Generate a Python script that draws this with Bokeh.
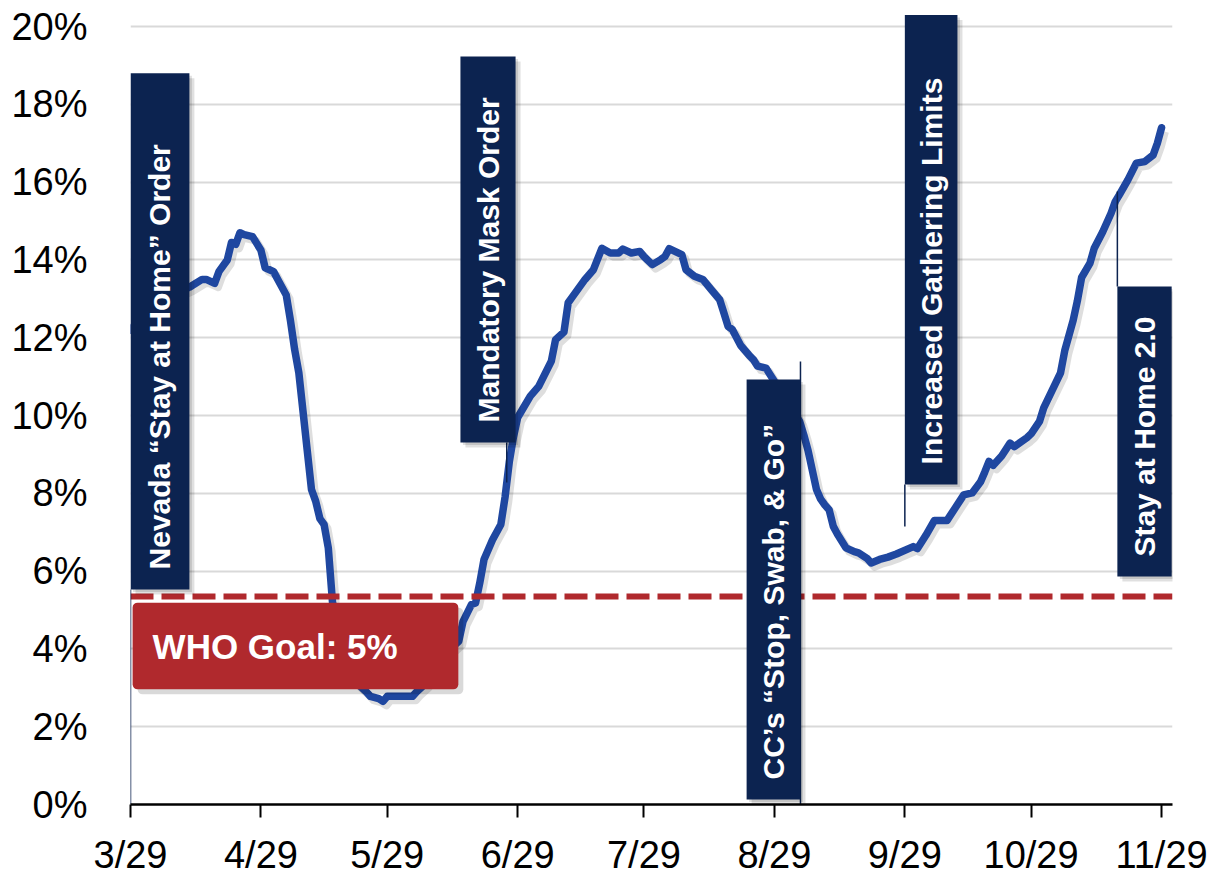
import math
from bokeh.plotting import figure
from bokeh.models import ColumnDataSource, FixedTicker, BoxAnnotation, Label
from bokeh.core.properties import value
from bokeh.embed import file_html
from bokeh.resources import INLINE

# ---------------- data ----------------
# x = days since 3/29 (2020), y = test positivity rate in %
days = [0, 3, 6, 9, 12, 14, 17, 18, 20, 21, 23, 24, 25, 26, 27, 29, 31, 32, 34, 35,
        37, 38, 39, 40, 41, 42, 43, 44, 45, 46, 47, 48, 50, 52, 54, 56, 57, 59, 60, 61,
        63, 65, 67, 68, 70, 72, 74, 76, 78, 79, 81, 82, 83, 84, 86, 88, 89, 90, 91, 92,
        95, 97, 100, 101, 103, 104, 105, 108, 110, 112, 114, 116, 117, 119, 121, 122, 124, 126, 127, 128,
        130, 131, 132, 134, 136, 138, 140, 141, 142, 143, 145, 147, 148, 149, 151, 152, 153, 155, 157, 159,
        160, 161, 162, 163, 164, 165, 166, 167, 168, 170, 172, 173, 175, 176, 178, 180, 182, 186, 187, 189,
        191, 194, 196, 198, 200, 202, 203, 204, 205, 207, 209, 210, 213, 214, 216, 217, 219, 221, 222, 224,
        225, 226, 228, 229, 231, 233, 234, 235, 237, 239, 241, 243, 244, 245]
rate = [12.2, 12.6, 12.9, 13.1, 13.2, 13.3, 13.5, 13.5, 13.4, 13.7, 14.0, 14.45, 14.4, 14.7, 14.65, 14.6, 14.25, 13.8, 13.7, 13.5,
        13.1, 12.45, 11.7, 11.1, 10.1, 9.1, 8.1, 7.8, 7.35, 7.2, 6.6, 5.2, 4.3, 3.6, 3.1, 2.9, 2.78, 2.72, 2.65, 2.78,
        2.78, 2.78, 2.78, 2.9, 3.1, 3.4, 3.7, 4.0, 4.2, 4.7, 5.14, 5.18, 5.7, 6.3, 6.8, 7.2, 7.9, 8.8, 9.45, 9.95,
        10.5, 10.75, 11.4, 11.95, 12.15, 12.9, 13.05, 13.5, 13.75, 14.3, 14.18, 14.18, 14.28, 14.18, 14.22, 14.09, 13.88, 14.01, 14.09, 14.29,
        14.19, 14.14, 13.75, 13.58, 13.5, 13.24, 12.98, 12.64, 12.29, 12.21, 11.8, 11.55, 11.44, 11.27, 11.22, 11.05, 10.88, 10.5, 10.2, 9.85,
        9.5, 9.1, 8.6, 8.1, 7.85, 7.7, 7.58, 7.15, 6.95, 6.6, 6.5, 6.47, 6.33, 6.21, 6.3, 6.36, 6.44, 6.63, 6.58, 6.92,
        7.3, 7.3, 7.63, 7.96, 8.01, 8.3, 8.55, 8.82, 8.72, 8.96, 9.29, 9.2, 9.43, 9.53, 9.85, 10.2, 10.65, 11.1, 11.67, 12.45,
        12.95, 13.55, 13.92, 14.3, 14.72, 15.2, 15.5, 15.68, 16.06, 16.49, 16.53, 16.7, 17.0, 17.4]

tick_days = [0, 31, 61, 92, 122, 153, 184, 214, 245]
tick_labels = ["3/29", "4/29", "5/29", "6/29", "7/29", "8/29", "9/29", "10/29", "11/29"]
y_ticks = [0, 2, 4, 6, 8, 10, 12, 14, 16, 18, 20]
y_labels = [f"{t}%" for t in y_ticks]

event_days = [0, 89.4, 159.2, 184, 234.5]
event_labels = ["Nevada \u201cStay at Home\u201d Order", "Mandatory Mask Order",
                "CC\u2019s \u201cStop, Swab, & Go\u201d", "Increased Gathering Limits", "Stay at Home 2.0"]
who_goal = 5.35
who_label = "WHO Goal: 5%"

# ---------------- layout / style ----------------
PX_X = 4.2082   # px per day
PX_Y = 38.9     # px per percentage point
FONT = "Liberation Sans"
NAVY = "#0c2350"
BLUE = "#1f47a0"
RED = "#b0292d"

# box extents around each event marker
box_left = [0, 78.4, 146.4, 184, 234.5]
box_right = [14.0, 91.5, 159.2, 196.5, 247.4]
box_bottom = [5.53, 9.31, 0.13, 8.23, 5.86]
box_top = [18.8, 19.23, 10.93, 20.3, 13.32]
line_y0 = [5.53, 9.31, 11.39, 8.23, 13.32]
line_y1 = [0.0, 8.28, 0.0, 7.15, 15.76]

p = figure(width=1208, height=882, x_range=(0, 247.6), y_range=(0, 20.44),
           output_backend="svg", toolbar_location=None,
           min_border_left=130, min_border_right=36, min_border_top=9, min_border_bottom=78)
p.outline_line_color = None
p.background_fill_color = "white"
p.border_fill_color = "white"

p.xgrid.grid_line_color = None
p.ygrid.grid_line_color = "#d9d9d9"
p.ygrid.grid_line_width = 2

p.xaxis.ticker = FixedTicker(ticks=tick_days)
p.xaxis.major_label_overrides = {d: l for d, l in zip(tick_days, tick_labels)}
p.xaxis.axis_line_color = "black"
p.xaxis.axis_line_width = 2.5
p.xaxis.major_tick_line_color = "black"
p.xaxis.major_tick_line_width = 2
p.xaxis.major_tick_out = 13
p.xaxis.major_tick_in = 0
p.xaxis.minor_tick_line_color = None
p.xaxis.major_label_standoff = 16
p.xaxis.major_label_text_font = FONT
p.xaxis.major_label_text_font_size = "38px"
p.xaxis.major_label_text_color = "black"

p.yaxis.ticker = FixedTicker(ticks=y_ticks)
p.yaxis.major_label_overrides = {t: l for t, l in zip(y_ticks, y_labels)}
p.yaxis.axis_line_color = None
p.yaxis.major_tick_line_color = None
p.yaxis.minor_tick_line_color = None
p.yaxis.major_tick_out = 0
p.yaxis.major_tick_in = 0
p.yaxis.major_label_standoff = 43
p.yaxis.major_label_text_font = FONT
p.yaxis.major_label_text_font_size = "38px"
p.yaxis.major_label_text_color = "black"

src = ColumnDataSource(dict(x=days, y=rate))
# soft shadow of the curve
p.line([d + 0.8 for d in days], [r - 0.1 for r in rate], line_color="black", line_alpha=0.13,
       line_width=8, line_join="round")
p.line("x", "y", source=src, line_color=BLUE, line_width=7.5, line_join="round", line_cap="round")

# WHO goal dashed line
p.line([0, 247.6], [who_goal, who_goal], line_color=RED, line_width=6, line_dash="23 8")

# event marker lines
p.segment(x0=event_days, y0=line_y0, x1=event_days, y1=line_y1, line_color=NAVY, line_width=1.5)

# event boxes with shadow
dx, dy = 5 / PX_X, 5 / PX_Y
p.quad(left=[l + dx for l in box_left], right=[r + dx for r in box_right],
       bottom=[b - dy for b in box_bottom], top=[t - dy for t in box_top],
       fill_color="black", fill_alpha=0.12, line_color=None)
p.quad(left=[l + dx / 2 for l in box_left], right=[r + dx / 2 for r in box_right],
       bottom=[b - dy / 2 for b in box_bottom], top=[t - dy / 2 for t in box_top],
       fill_color="black", fill_alpha=0.12, line_color=None)
p.quad(left=box_left, right=box_right, bottom=box_bottom, top=box_top,
       fill_color=NAVY, line_color=None)

text_x = [(l + r) / 2 for l, r in zip(box_left, box_right)]
text_y = [b + 20 / PX_Y for b in box_bottom]
p.text(x=text_x, y=text_y, text=event_labels, angle=math.pi / 2,
       text_align="left", text_baseline="middle", text_color="white",
       text_font=value(FONT), text_font_style="bold", text_font_size="30px")

# WHO goal box
p.add_layout(BoxAnnotation(left=0.5 + dx, right=77.9 + dx, bottom=2.96 - dy, top=5.19 - dy,
                           fill_color="black", fill_alpha=0.15, line_color=None, border_radius=5))
p.add_layout(BoxAnnotation(left=0.5, right=77.9, bottom=2.96, top=5.19,
                           fill_color=RED, fill_alpha=1.0, line_color=None, border_radius=5))
p.add_layout(Label(x=0.5 + 20 / PX_X, y=(2.96 + 5.19) / 2, text=who_label,
                   text_baseline="middle", text_align="left", text_color="white",
                   text_font=FONT, text_font_style="bold", text_font_size="35px"))

open("out.html", "w").write(file_html(p, INLINE))
